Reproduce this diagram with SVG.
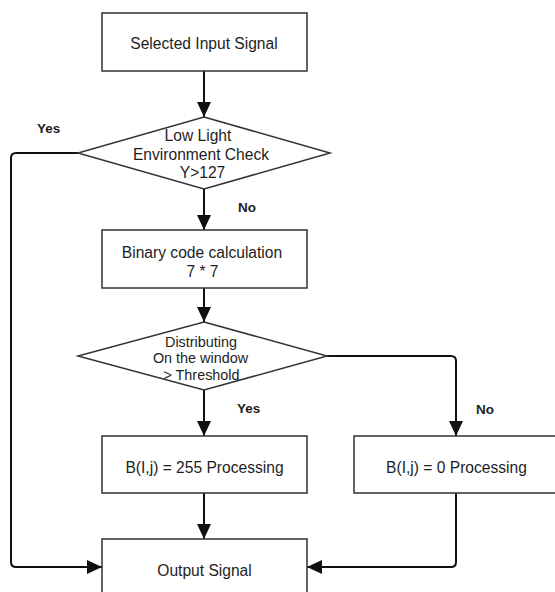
<svg xmlns="http://www.w3.org/2000/svg" width="555" height="592" viewBox="0 0 555 592">
<style>
.shape{fill:#ffffff;stroke:#333333;stroke-width:1.5}
.conn{fill:none;stroke:#111111;stroke-width:2;marker-end:url(#arrow)}
.t{font-family:"Liberation Sans",Arial,sans-serif;font-size:15.6px;fill:#1e1e1e;text-anchor:middle}
.t2{font-family:"Liberation Sans",Arial,sans-serif;font-size:14.4px;fill:#1e1e1e;text-anchor:middle}
.lbl{font-family:"Liberation Sans",Arial,sans-serif;font-size:13.5px;font-weight:bold;fill:#1e1e1e}
</style>
<defs>
<marker id="arrow" markerUnits="userSpaceOnUse" markerWidth="15" markerHeight="14" refX="15" refY="7" orient="auto">
<path d="M0,0 L15,7 L0,14 z" fill="#111111"/>
</marker>
</defs>
<rect width="555" height="592" fill="#ffffff"/>
<g id="connectors">
<path class="conn" d="M204,71 V117"/>
<path class="conn" d="M204,189 V230"/>
<path class="conn" d="M204,288 V322"/>
<path class="conn" d="M204,390 V436"/>
<path class="conn" d="M204,493 V539"/>
<path class="conn" d="M78,153 H16 Q11,153 11,158 V562 Q11,567 16,567 H102"/>
<path class="conn" d="M327,356 H451 Q456,356 456,361 V436"/>
<path class="conn" d="M456,493 V562 Q456,567 451,567 H307"/>
<text class="lbl" x="37" y="133">Yes</text>
<text class="lbl" x="238" y="212">No</text>
<text class="lbl" x="237" y="413">Yes</text>
<text class="lbl" x="476" y="414">No</text>
</g>
<g id="input">
<rect class="shape" x="102" y="13" width="205" height="58"/>
<text class="t" x="204" y="48.5">Selected Input Signal</text>
</g>
<g id="lowlight">
<polygon class="shape" points="204,117 330,153 204,189 78,153"/>
<text class="t" x="198" y="140.5">Low Light</text>
<text class="t" x="201" y="159.5">Environment Check</text>
<text class="t" x="202.5" y="177.5">Y&gt;127</text>
</g>
<g id="binary">
<rect class="shape" x="102" y="230" width="205" height="58"/>
<text class="t" x="202" y="257.5">Binary code calculation</text>
<text class="t" x="202.5" y="276.5">7 * 7</text>
</g>
<g id="distributing">
<polygon class="shape" points="204,322 327,356 204,390 78,356"/>
<text class="t2" x="201" y="347">Distributing</text>
<text class="t2" x="200.5" y="363">On the window</text>
<text class="t2" x="201.5" y="380">&gt; Threshold</text>
</g>
<g id="b255">
<rect class="shape" x="102" y="436" width="205" height="57"/>
<text class="t" x="204.5" y="472.5">B(I,j) = 255 Processing</text>
</g>
<g id="b0">
<rect class="shape" x="354" y="436" width="205" height="57"/>
<text class="t" x="456.5" y="472.5">B(I,j) = 0 Processing</text>
</g>
<g id="output">
<rect class="shape" x="102" y="539" width="205" height="58"/>
<text class="t" x="204.5" y="575.5">Output Signal</text>
</g>
</svg>
